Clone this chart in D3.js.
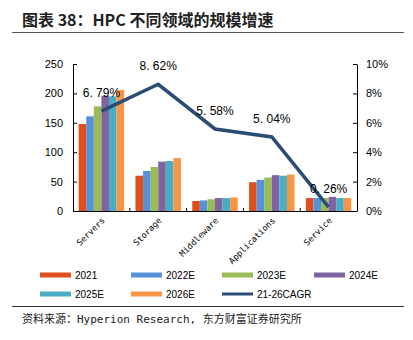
<!DOCTYPE html>
<html>
<head>
<meta charset="utf-8">
<script src="https://cdn.jsdelivr.net/npm/d3@7"></script>
<style>
  body { margin: 0; background: #fff; }
  svg { display: block; }
</style>
</head>
<body>
<div id="chart"></div>
<script>
// HPC segment sizes and 21-26 CAGR
const categories = ["Servers", "Storage", "Middleware", "Applications", "Service"];
const seriesNames = ["2021", "2022E", "2023E", "2024E", "2025E", "2026E"];
const values2021 = [148, 60, 17, 49, 22];
const values2022 = [161, 68, 18, 53, 22];
const values2023 = [178, 75, 20, 57, 22];
const values2024 = [196, 84, 22, 61, 24];
const values2025 = [195, 85, 22, 60, 22];
const values2026 = [206, 90, 23, 62, 22];
const cagr = [6.79, 8.62, 5.58, 5.04, 0.26];
const cagrLabels = ["6. 79%", "8. 62%", "5. 58%", "5. 04%", "0. 26%"];
const leftTicks = [0, 50, 100, 150, 200, 250];
const rightTicks = [0, 2, 4, 6, 8, 10];

const colors = ["#E04E1E", "#5592D8", "#9BBB59", "#8064A2", "#4BACC6", "#F79646"];
const lineColor = "#2B4C74";

const W = 413, H = 340;
const plot = { left: 73, right: 357, top: 64, bottom: 211 };

const svg = d3.select("#chart").append("svg")
  .attr("width", W).attr("height", H);

// title
svg.append("text")
  .attr("x", 22).attr("y", 26)
  .attr("font-family", "'Noto Sans CJK SC', sans-serif")
  .attr("font-weight", "bold")
  .attr("font-size", 16)
  .attr("fill", "#222")
  .text("图表 38：HPC 不同领域的规模增速");

svg.append("line")
  .attr("x1", 12).attr("x2", 404).attr("y1", 32.5).attr("y2", 32.5)
  .attr("stroke", "#555").attr("stroke-width", 1);

const data = [values2021, values2022, values2023, values2024, values2025, values2026];

const x0 = d3.scaleBand().domain(categories).range([plot.left, plot.right]).paddingInner(0.2).paddingOuter(0.1);
const x1 = d3.scaleBand().domain(seriesNames).range([0, x0.bandwidth()]);
const yL = d3.scaleLinear().domain([0, 250]).range([plot.bottom, plot.top]);
const yR = d3.scaleLinear().domain([0, 10]).range([plot.bottom, plot.top]);

// bars
seriesNames.forEach((s, si) => {
  svg.append("g").selectAll("rect")
    .data(categories)
    .join("rect")
    .attr("x", c => x0(c) + x1(s))
    .attr("width", x1.bandwidth())
    .attr("y", (c, i) => yL(data[si][i]))
    .attr("height", (c, i) => plot.bottom - yL(data[si][i]))
    .attr("fill", colors[si]);
});

// left axis
const leftAxis = svg.append("g")
  .attr("transform", `translate(${plot.left},0)`)
  .call(d3.axisLeft(yL).tickValues(leftTicks).tickSizeInner(-4).tickSizeOuter(0).tickPadding(10));
leftAxis.select(".domain").attr("stroke", "#000");
leftAxis.selectAll("line").attr("stroke", "#000");
leftAxis.selectAll("text")
  .attr("font-family", "'Liberation Sans', Arial, sans-serif")
  .attr("font-size", 11).attr("fill", "#000");

// right axis
const rightAxis = svg.append("g")
  .attr("transform", `translate(${plot.right},0)`)
  .call(d3.axisRight(yR).tickValues(rightTicks).tickFormat(d => d + "%")
    .tickSizeInner(-4).tickSizeOuter(0).tickPadding(9));
rightAxis.select(".domain").attr("stroke", "#000");
rightAxis.selectAll("line").attr("stroke", "#000");
rightAxis.selectAll("text")
  .attr("font-family", "'Liberation Sans', Arial, sans-serif")
  .attr("font-size", 11).attr("fill", "#000");

// x axis
const step = (plot.right - plot.left) / categories.length;
svg.append("line")
  .attr("x1", plot.left).attr("x2", plot.right)
  .attr("y1", plot.bottom + 0.5).attr("y2", plot.bottom + 0.5)
  .attr("stroke", "#000");
d3.range(1, categories.length).forEach(i => {
  svg.append("line")
    .attr("x1", plot.left + i * step).attr("x2", plot.left + i * step)
    .attr("y1", plot.bottom).attr("y2", plot.bottom - 3)
    .attr("stroke", "#000");
});
const xc = c => x0(c) + x0.bandwidth() / 2;
svg.append("g").selectAll("text")
  .data(categories)
  .join("text")
  .attr("transform", c => `translate(${xc(c) + 4},${plot.bottom + 10}) rotate(-45)`)
  .attr("text-anchor", "end")
  .attr("font-family", "'DejaVu Sans Mono', monospace")
  .attr("font-size", 8.5)
  .attr("fill", "#000")
  .text(c => c);

// CAGR line
const line = d3.line().x((d, i) => xc(categories[i])).y(d => yR(d));
svg.append("path")
  .datum(cagr)
  .attr("d", line)
  .attr("fill", "none")
  .attr("stroke", lineColor)
  .attr("stroke-width", 3.5);

svg.append("g").selectAll("text")
  .data(cagr)
  .join("text")
  .attr("x", (d, i) => xc(categories[i]))
  .attr("y", d => yR(d) - 14)
  .attr("text-anchor", "middle")
  .attr("font-family", "'Liberation Sans', Arial, sans-serif")
  .attr("font-size", 12)
  .attr("fill", "#000")
  .text((d, i) => cagrLabels[i]);

// legend
const legendItems = seriesNames.map((s, i) => ({ name: s, color: colors[i], type: "bar" }))
  .concat([{ name: "21-26CAGR", color: lineColor, type: "line" }]);
const legendX = [40, 131, 222, 314];
const legendY = [275, 294];
legendItems.forEach((d, i) => {
  const lx = legendX[i % 4], ly = legendY[Math.floor(i / 4)];
  svg.append("rect")
    .attr("x", lx).attr("y", ly - (d.type === "line" ? 1.5 : 2.5))
    .attr("width", 31).attr("height", d.type === "line" ? 3 : 5)
    .attr("fill", d.color);
  svg.append("text")
    .attr("x", lx + 35).attr("y", ly + 4)
    .attr("font-family", "'Liberation Sans', Arial, sans-serif")
    .attr("font-size", 10)
    .attr("fill", "#000")
    .text(d.name);
});

// footer
svg.append("line")
  .attr("x1", 12).attr("x2", 404).attr("y1", 306.5).attr("y2", 306.5)
  .attr("stroke", "#333").attr("stroke-width", 1);
svg.append("text")
  .attr("x", 22).attr("y", 323)
  .attr("font-family", "'DejaVu Sans Mono', 'Noto Sans CJK SC', monospace")
  .attr("font-size", 11)
  .attr("fill", "#222")
  .text("资料来源：Hyperion Research, 东方财富证券研究所");
</script>
</body>
</html>
